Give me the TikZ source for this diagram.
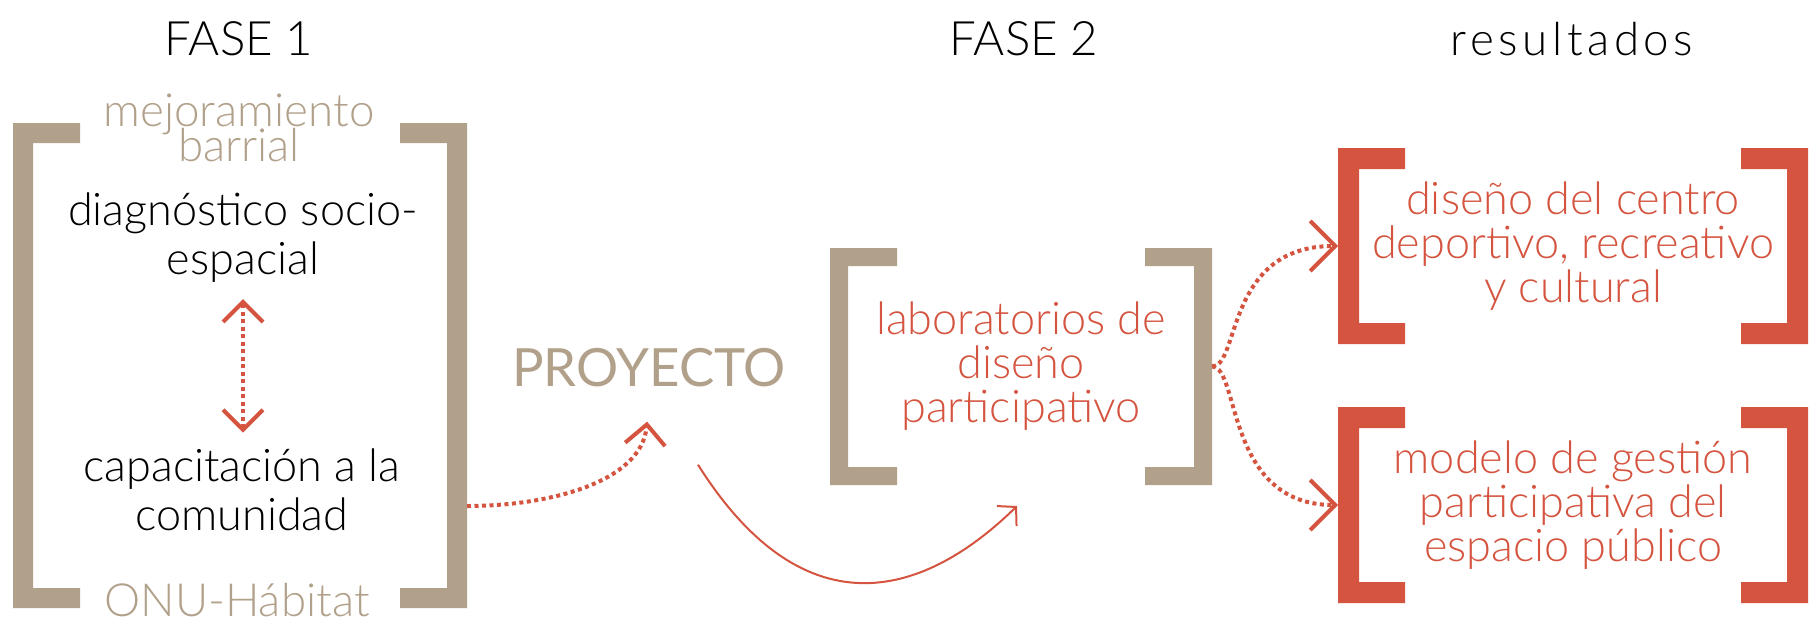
\documentclass[tikz,border=0pt]{standalone}
\usepackage{fontspec}
\setmainfont{Lato Light}
\newfontfamily\latoreg{Lato}
\usepackage{tikz}
\usetikzlibrary{positioning,calc,arrows.meta}

\definecolor{arena}{HTML}{B1A08A}
\definecolor{ladrillo}{HTML}{D4543F}
\newcommand{\apretado}{\lineskiplimit=-20pt\relax}

% corchetes [ ] alrededor de un nodo: nodo, color, grosor, brazo
\newcommand{\corchetes}[4]{
  \fill[#2] (#1.north west) -- ++(#4,0) -- ++(0,-#3) -- ++(#3-#4,0)
    |- ($(#1.south west)+(#4,#3)$) -- ++(0,-#3) -- (#1.south west) -- cycle;
  \fill[#2] (#1.north east) -- ++(-#4,0) -- ++(0,-#3) -- ++(#4-#3,0)
    |- ($(#1.south east)+(-#4,#3)$) -- ++(0,-#3) -- (#1.south east) -- cycle;
}

\tikzset{
  titulo/.style={anchor=base, font=\fontsize{13.5}{14}\selectfont},
  caja/.style={inner sep=0pt, outer sep=0pt},
  negro/.style={align=center, font=\fontsize{12.8}{13.9}\selectfont},
  gris/.style={align=center, text=arena, font=\fontsize{13}{10}\selectfont\apretado},
  rojo/.style={align=center, text=ladrillo, font=\fontsize{12.8}{12.5}\selectfont},
  puntos/.style={ladrillo, line width=0.4mm, dash pattern=on 0.4mm off 0.35mm},
  punta/.style={-{Straight Barb[length=2mm,width=4mm]}},
  puntab/.style={{Straight Barb[length=2mm,width=4mm]}-{Straight Barb[length=2mm,width=4mm]}},
  puntag/.style={-{Straight Barb[length=2.5mm,width=5mm]}}
}

\begin{document}
\begin{tikzpicture}[x=0.1mm,y=0.1mm]
\useasboundingbox (0,0) rectangle (1812,622);

\node[titulo] (fase1t) at (239,567) {FASE 1};
\node[titulo] (fase2t) at (1024,567) {FASE 2};
\node[titulo, font=\fontsize{13}{14}\selectfont\addfontfeatures{LetterSpace=10}] (result) at (1572,567) {resultados};

% fase 1
\node[caja, minimum width=45.4mm, minimum height=48.5mm] (fase1) at (240,256.5) {};
\corchetes{fase1}{arena}{20}{67}
\node[gris] (mejora) at (239,494) {mejoramiento\\barrial};
\node[negro] (diag) at (243,384) {diagnóstico socio-\\espacial};
\node[negro] (capac) at (242,132) {capacitación a la\\comunidad};
\node[gris, anchor=base] (onu) at (237,6) {ONU-Hábitat};
\draw[puntos, puntab, shorten <=0.4mm, shorten >=0.4mm] (diag.south) -- (diag.south |- capac.north);

\node[text=arena, font=\latoreg\fontsize{15}{16}\selectfont] (proy) at (649,254) {PROYECTO};

% fase 2
\node[caja, rojo, minimum width=38.2mm, minimum height=23.7mm] (lab) at (1021,255.5) {laboratorios de\\diseño\\participativo};
\corchetes{lab}{arena}{18}{67}

% resultados
\node[caja, rojo, font=\fontsize{12.8}{12.5}\selectfont, minimum width=47mm, minimum height=19.6mm] (res1) at (1573,376) {diseño del centro\\deportivo, recreativo\\y cultural};
\corchetes{res1}{ladrillo}{21}{67}
\node[caja, rojo, font=\fontsize{12.8}{12.5}\selectfont, minimum width=47mm, minimum height=19.6mm] (res2) at (1573,117) {modelo de gestión\\participativa del\\espacio público};
\corchetes{res2}{ladrillo}{21}{67}

\draw[puntos, punta, shorten >=2.2mm] ([yshift=10.2mm]fase1.south east) to[out=0,in=-95] (proy.south);
\draw[ladrillo, line width=0.2mm, -{Straight Barb[length=1.3mm,width=2.8mm]}]
  ([shift={(4.9mm,-6.5mm)}]proy.south) .. controls +(104,-165) and +(-97,-95) .. ([shift={(-0.4mm,-2.1mm)}]lab.south);
\draw[puntos, puntag] (lab.east) .. controls +(28,0) and +(-113,0) .. (res1.west);
\draw[puntos, puntag] (lab.east) .. controls +(28,0) and +(-113,0) .. (res2.west);
\end{tikzpicture}
\end{document}
